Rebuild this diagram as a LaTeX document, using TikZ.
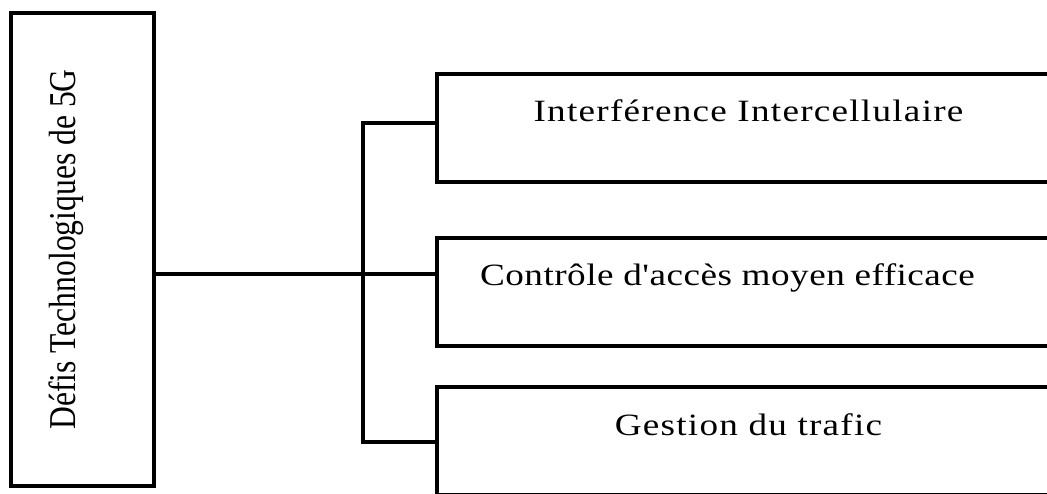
\documentclass[tikz,border=0pt]{standalone}
\usepackage{fontspec}
\setmainfont{Liberation Serif}
\newfontfamily\boxfont[FakeStretch=1.2,LetterSpace=4]{Liberation Serif}
\newfontfamily\accesfont[FakeStretch=1.2,LetterSpace=1.5]{Liberation Serif}

\begin{document}
\begin{tikzpicture}[x=1pt,y=-1pt]
      \tikzset{defi box/.style={draw,
          line width=4.5pt,
          minimum width=623pt,
          minimum height=108pt,
          text height=20pt,
          text depth=32pt,
          font=\boxfont\fontsize{31}{36}\selectfont},
        link/.style={line width=4.5pt, line cap=rect}
      }
      \clip (0,0) rectangle (1047,494);
      \node [draw, line width=4.5pt, rotate=90, minimum width=473pt, minimum height=143pt,
        text height=10pt, text depth=25pt, font=\fontsize{31.6}{36}\selectfont]
        (defis) at (82.5,249.5) {\scalebox{1}[1.2]{Défis Technologiques de 5G}};
      \node [defi box] (interf) at (748.5,128) {Interférence Intercellulaire};
      \node [defi box, font=\accesfont\fontsize{31}{36}\selectfont] (acces) at (748.5,292)
        {Contrôle d'accès moyen efficace\hspace*{42pt}};
      \node [defi box] (trafic) at (748.5,441) {Gestion du trafic};
      \coordinate (hub) at (363,274);
      \coordinate (top) at (363,123);
      \coordinate (bot) at (363,442);
      \draw [link] (defis.south |- hub) -- (hub -| acces.west);
      \draw [link] (top -| interf.west) -- (top) -- (bot) -- (bot -| trafic.west);
    \end{tikzpicture}
\end{document}
